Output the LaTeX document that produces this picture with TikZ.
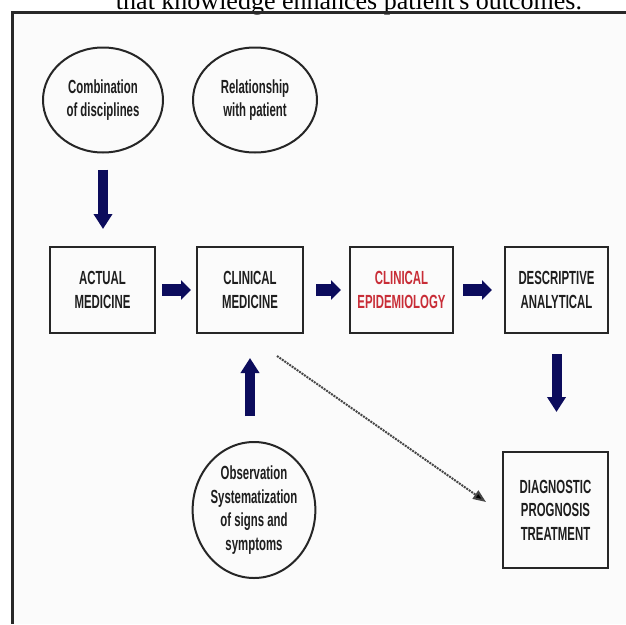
\documentclass[tikz,border=0pt]{standalone}
\usepackage{fontspec}
\setmainfont{Liberation Sans}
\newfontfamily\cond[FakeStretch=0.6]{Liberation Sans}
\newfontfamily\titlefont{Liberation Serif}
\usetikzlibrary{shapes.geometric,arrows.meta}
\definecolor{navy}{RGB}{12,12,92}
\definecolor{txt}{RGB}{30,30,30}
\definecolor{epired}{RGB}{200,45,55}
\definecolor{bgin}{RGB}{251,251,251}
\definecolor{framec}{RGB}{40,40,40}
\definecolor{dotc}{RGB}{70,70,70}
\begin{document}
\begin{tikzpicture}[x=1pt,y=-1pt,
  lbl/.style={font=\cond\bfseries\fontsize{19}{23.5}\selectfont, text=txt, align=center},
  boxnode/.style={lbl, draw=black!85, line width=2pt, rectangle, inner sep=0pt, minimum width=105pt, minimum height=86pt},
  ovalnode/.style={lbl, draw=black!85, line width=2pt, ellipse, inner sep=0pt},
  harrow/.style={draw=navy, line width=12pt, -{Triangle[length=10pt,width=19pt]}},
  varrow/.style={draw=navy, line width=10pt, -{Triangle[length=15pt,width=18pt]}},
  dotarrow/.style={draw=dotc, line width=2pt, dash pattern=on 2pt off 1pt, -{Triangle[length=13pt,width=10pt,fill=black]}}
]
\useasboundingbox (0,0) rectangle (626,624);
\fill[white] (0,0) rectangle (626,624);
\fill[bgin] (12,12) rectangle (626,624);
\begin{scope}
  \clip (0,0) rectangle (626,624);
  \node[anchor=base, font=\titlefont\fontsize{26}{30}\selectfont, inner sep=0pt] (title) at (349,9) {that knowledge enhances patient's outcomes.};
\end{scope}
\draw[framec, line width=3pt] (626,12) -- (12,12) -- (12,624);

\node[ovalnode, minimum width=120pt, minimum height=105pt] (e1) at (103,100) {Combination\\of disciplines};
\node[ovalnode, minimum width=124pt, minimum height=105pt] (e2) at (255,100) {Relationship\\with patient};
\node[boxnode] (b1) at (102.5,290) {ACTUAL\\MEDICINE};
\node[boxnode, minimum width=106pt] (b2) at (250,290) {CLINICAL\\MEDICINE};
\node[boxnode, minimum width=103pt, text=epired] (b3) at (401.5,290) {CLINICAL\\EPIDEMIOLOGY};
\node[boxnode, minimum width=103pt] (b4) at (556.5,290) {DESCRIPTIVE\\ANALYTICAL};
\node[ovalnode, minimum width=122pt, minimum height=136pt] (c1) at (254,510) {Observation\\Systematization\\of signs and\\symptoms};
\node[boxnode, minimum height=116pt] (d1) at (555.5,510) {DIAGNOSTIC\\PROGNOSIS\\TREATMENT};

\draw[varrow, shorten <=16pt, shorten >=17pt] (e1.south) -- (e1.south |- b1.north);
\draw[harrow, shorten <=6pt, shorten >=5pt] (b1.east) -- (b2.west);
\draw[harrow, shorten <=12pt, shorten >=8pt] (b2.east) -- (b3.west);
\draw[harrow, shorten <=9pt, shorten >=12pt] (b3.east) -- (b4.west);
\draw[varrow, shorten <=25pt, shorten >=24pt] (b2.south |- c1.north) -- (b2.south);
\draw[varrow, shorten <=20pt, shorten >=39pt] (b4.south) -- (b4.south |- d1.north);
\draw[dotarrow] ([shift={(27,22)}]b2.south) -- ([shift={(-16,-8)}]d1.west);
\end{tikzpicture}
\end{document}
